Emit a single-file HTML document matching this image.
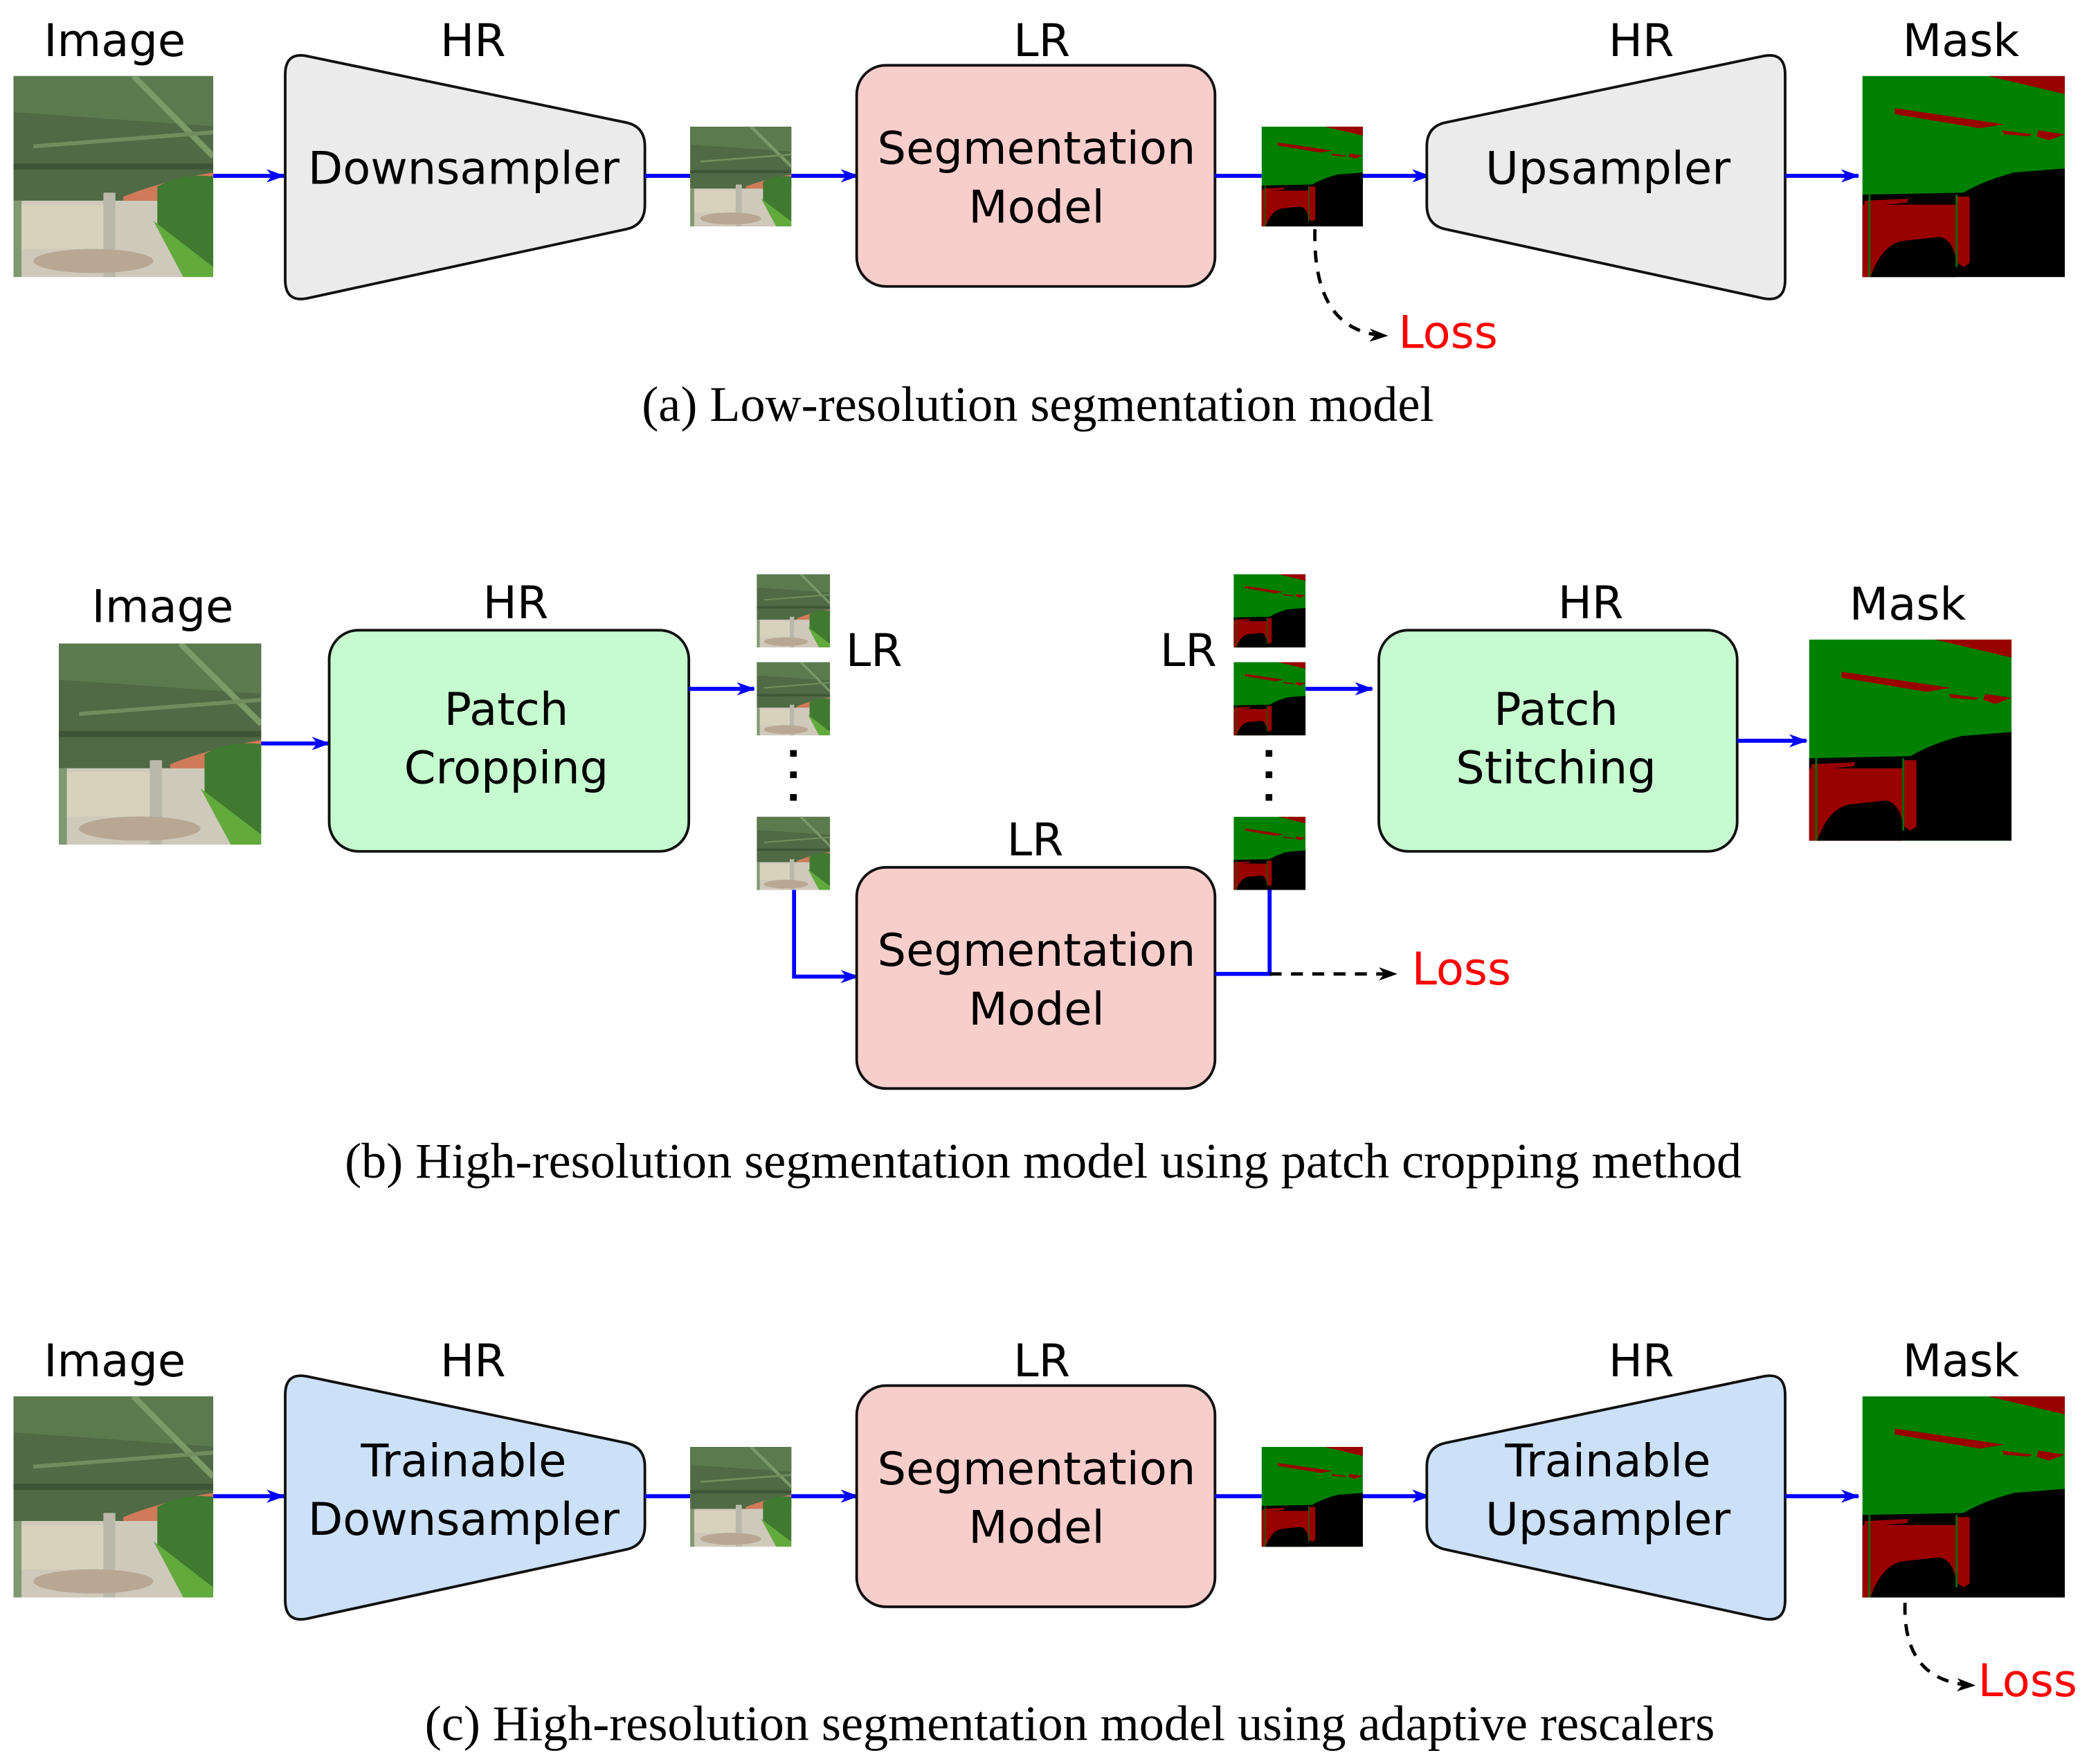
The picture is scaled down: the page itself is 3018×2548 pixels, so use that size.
<!DOCTYPE html>
<html><head><meta charset="utf-8"><style>html,body{margin:0;padding:0;background:#fff}svg{display:block}</style></head>
<body>
<svg xmlns="http://www.w3.org/2000/svg" width="3018" height="2548" viewBox="0 0 1568 1324">
<defs>
<marker id="ab" markerWidth="14" markerHeight="10" refX="13" refY="5" orient="auto" markerUnits="userSpaceOnUse"><path d="M0,0 L14,5 L0,10 L4,5 Z" fill="#0000ff"/></marker>
<marker id="ak" markerWidth="14" markerHeight="10" refX="13" refY="5" orient="auto" markerUnits="userSpaceOnUse"><path d="M0,0 L14,5 L0,10 L4,5 Z" fill="#000"/></marker>
<symbol id="photo" viewBox="0 0 100 100" preserveAspectRatio="none">
<rect width="100" height="100" fill="#cfc9bb"/>
<rect width="100" height="62" fill="#4f6a44"/>
<path d="M0,0 H100 V25 L0,18 Z" fill="#5b7a4e"/>
<path d="M60,0 L100,40" stroke="#7a9a68" stroke-width="3"/>
<path d="M10,35 L100,28" stroke="#6f8d5e" stroke-width="2"/>
<path d="M0,45 H100" stroke="#3e5535" stroke-width="3"/>
<path d="M55,60 Q75,52 100,48 V62 H55 Z" fill="#cf7a5a"/>
<rect x="3" y="64" width="47" height="22" fill="#d8d2bd"/>
<rect x="0" y="62" width="4" height="38" fill="#7f9a70"/>
<rect x="45" y="58" width="6" height="42" fill="#b9b8aa"/>
<path d="M72,55 Q85,48 100,50 V95 L72,75 Z" fill="#3f7a30"/>
<path d="M70,72 L100,95 V100 L85,100 Z" fill="#62aa3c"/>
<ellipse cx="40" cy="92" rx="30" ry="6" fill="#b8a893"/>
</symbol>
<symbol id="mask" viewBox="0 0 100 100" preserveAspectRatio="none">
<rect width="100" height="100" fill="#008000"/>
<path d="M62,0 H100 V9 Z" fill="#990000"/>
<path d="M16,16 L70,24 L58,26 L16,19 Z" fill="#990000"/>
<path d="M69,27 L84,29 L82,30 L70,29 Z M87,27 L100,29 L92,32 L86,30 Z" fill="#990000"/>
<path d="M0,59 L50,58 Q60,52 75,48 L100,46 V100 H0 Z" fill="#000"/>
<rect x="0" y="64" width="46" height="36" fill="#990000"/>
<path d="M1,62 L23,61 L22,63 L1,65 Z" fill="#990000"/>
<path d="M4,100 C8,88 14,83 20,82 L38,80 Q44,81 46,90 V100 Z" fill="#000"/>
<path d="M46,60 H53 V93 L50,95 L47,93 Z" fill="#990000"/>
<rect x="3" y="59" width="1" height="41" fill="#0a6a0a"/>
<rect x="46" y="59" width="1" height="36" fill="#0a6a0a"/>
</symbol>
</defs>
<g font-family="'DejaVu Sans', Verdana, sans-serif" font-size="34" text-anchor="middle" fill="#000">
<!-- (a) -->
<text x="86" y="42">Image</text>
<use href="#photo" x="10" y="57" width="150" height="151"/>
<line x1="160" y1="132" x2="213" y2="132" stroke="#0000ff" stroke-width="3" marker-end="url(#ab)"/>
<text x="355" y="42">HR</text>
<path d="M230,42 L470,92 Q484,95 484,110 L484,154 Q484,169 470,172 L230,224 Q214,227 214,210 L214,56 Q214,39 230,42 Z" fill="#ebebeb" stroke="#111" stroke-width="2"/>
<text x="348" y="138">Downsampler</text>
<line x1="484" y1="132" x2="518" y2="132" stroke="#0000ff" stroke-width="3"/>
<use href="#photo" x="518" y="95" width="76" height="75"/>
<line x1="594" y1="132" x2="644" y2="132" stroke="#0000ff" stroke-width="3" marker-end="url(#ab)"/>
<text x="782" y="42">LR</text>
<rect x="643" y="49" width="269" height="166" rx="22" fill="#f8cecc" stroke="#111" stroke-width="2"/>
<text x="778" y="123">Segmentation</text><text x="778" y="167">Model</text>
<line x1="912" y1="132" x2="947" y2="132" stroke="#0000ff" stroke-width="3"/>
<use href="#mask" x="947" y="95" width="76" height="75"/>
<line x1="1023" y1="132" x2="1073" y2="132" stroke="#0000ff" stroke-width="3" marker-end="url(#ab)"/>
<text x="1232" y="42">HR</text>
<path d="M1324,42 L1085,92 Q1071,95 1071,110 L1071,154 Q1071,169 1085,172 L1324,224 Q1340,227 1340,210 L1340,56 Q1340,39 1324,42 Z" fill="#ebebeb" stroke="#111" stroke-width="2"/>
<text x="1207" y="138">Upsampler</text>
<line x1="1340" y1="132" x2="1395" y2="132" stroke="#0000ff" stroke-width="3" marker-end="url(#ab)"/>
<text x="1472" y="42">Mask</text>
<use href="#mask" x="1398" y="57" width="152" height="151"/>
<path d="M987,172 Q985,250 1041,252" fill="none" stroke="#000" stroke-width="2.5" stroke-dasharray="9,7" marker-end="url(#ak)"/>
<text x="1087" y="261" fill="#ff0000">Loss</text>
<text x="779" y="316" font-family="'Liberation Serif', serif" font-size="37.5">(a) Low-resolution segmentation model</text>

<!-- (b) -->
<text x="122" y="467">Image</text>
<use href="#photo" x="44" y="483" width="152" height="151"/>
<line x1="196" y1="558" x2="247" y2="558" stroke="#0000ff" stroke-width="3" marker-end="url(#ab)"/>
<text x="387" y="464">HR</text>
<rect x="247" y="473" width="270" height="166" rx="22" fill="#c6fbd0" stroke="#111" stroke-width="2"/>
<text x="380" y="544">Patch</text><text x="380" y="588">Cropping</text>
<line x1="517" y1="517" x2="566" y2="517" stroke="#0000ff" stroke-width="3" marker-end="url(#ab)"/>
<use href="#photo" x="568" y="431" width="55" height="55"/>
<use href="#photo" x="568" y="497" width="55" height="55"/>
<use href="#photo" x="568" y="613" width="55" height="55"/>
<g fill="#000"><rect x="593" y="563" width="5" height="5"/><rect x="593" y="579" width="5" height="5"/><rect x="593" y="596" width="5" height="5"/>
<rect x="950" y="563" width="5" height="5"/><rect x="950" y="579" width="5" height="5"/><rect x="950" y="596" width="5" height="5"/></g>
<text x="656" y="500">LR</text>
<path d="M596,668 V733 H644" fill="none" stroke="#0000ff" stroke-width="3" marker-end="url(#ab)"/>
<text x="777" y="642">LR</text>
<rect x="643" y="651" width="269" height="166" rx="22" fill="#f8cecc" stroke="#111" stroke-width="2"/>
<text x="778" y="725">Segmentation</text><text x="778" y="769">Model</text>
<path d="M912,731 H953 V668" fill="none" stroke="#0000ff" stroke-width="3"/>
<line x1="953" y1="731" x2="1048" y2="731" stroke="#000" stroke-width="2.5" stroke-dasharray="9,7" marker-end="url(#ak)"/>
<text x="1097" y="739" fill="#ff0000">Loss</text>
<use href="#mask" x="926" y="431" width="54" height="55"/>
<use href="#mask" x="926" y="497" width="54" height="55"/>
<use href="#mask" x="926" y="613" width="54" height="55"/>
<text x="892" y="500">LR</text>
<line x1="980" y1="517" x2="1030" y2="517" stroke="#0000ff" stroke-width="3" marker-end="url(#ab)"/>
<text x="1194" y="464">HR</text>
<rect x="1035" y="473" width="269" height="166" rx="22" fill="#c6fbd0" stroke="#111" stroke-width="2"/>
<text x="1168" y="544">Patch</text><text x="1168" y="588">Stitching</text>
<line x1="1304" y1="556" x2="1356" y2="556" stroke="#0000ff" stroke-width="3" marker-end="url(#ab)"/>
<text x="1432" y="465">Mask</text>
<use href="#mask" x="1358" y="480" width="152" height="151"/>
<text x="783" y="884" font-family="'Liberation Serif', serif" font-size="37.5">(b) High-resolution segmentation model using patch cropping method</text>

<!-- (c) -->
<g transform="translate(0,991)">
<text x="86" y="42">Image</text>
<use href="#photo" x="10" y="57" width="150" height="151"/>
<line x1="160" y1="132" x2="213" y2="132" stroke="#0000ff" stroke-width="3" marker-end="url(#ab)"/>
<text x="355" y="42">HR</text>
<path d="M230,42 L470,92 Q484,95 484,110 L484,154 Q484,169 470,172 L230,224 Q214,227 214,210 L214,56 Q214,39 230,42 Z" fill="#cce0f7" stroke="#111" stroke-width="2"/>
<text x="348" y="117">Trainable</text><text x="348" y="161">Downsampler</text>
<line x1="484" y1="132" x2="518" y2="132" stroke="#0000ff" stroke-width="3"/>
<use href="#photo" x="518" y="95" width="76" height="75"/>
<line x1="594" y1="132" x2="644" y2="132" stroke="#0000ff" stroke-width="3" marker-end="url(#ab)"/>
<text x="782" y="42">LR</text>
<rect x="643" y="49" width="269" height="166" rx="22" fill="#f8cecc" stroke="#111" stroke-width="2"/>
<text x="778" y="123">Segmentation</text><text x="778" y="167">Model</text>
<line x1="912" y1="132" x2="947" y2="132" stroke="#0000ff" stroke-width="3"/>
<use href="#mask" x="947" y="95" width="76" height="75"/>
<line x1="1023" y1="132" x2="1073" y2="132" stroke="#0000ff" stroke-width="3" marker-end="url(#ab)"/>
<text x="1232" y="42">HR</text>
<path d="M1324,42 L1085,92 Q1071,95 1071,110 L1071,154 Q1071,169 1085,172 L1324,224 Q1340,227 1340,210 L1340,56 Q1340,39 1324,42 Z" fill="#cce0f7" stroke="#111" stroke-width="2"/>
<text x="1207" y="117">Trainable</text><text x="1207" y="161">Upsampler</text>
<line x1="1340" y1="132" x2="1395" y2="132" stroke="#0000ff" stroke-width="3" marker-end="url(#ab)"/>
<text x="1472" y="42">Mask</text>
<use href="#mask" x="1398" y="57" width="152" height="151"/>
<path d="M1430,212 Q1428,272 1482,274" fill="none" stroke="#000" stroke-width="2.5" stroke-dasharray="9,7" marker-end="url(#ak)"/>
<text x="1522" y="282" fill="#ff0000">Loss</text>
<text x="803" y="315" font-family="'Liberation Serif', serif" font-size="37.5">(c) High-resolution segmentation model using adaptive rescalers</text>
</g>
</g>
</svg>
</body></html>
